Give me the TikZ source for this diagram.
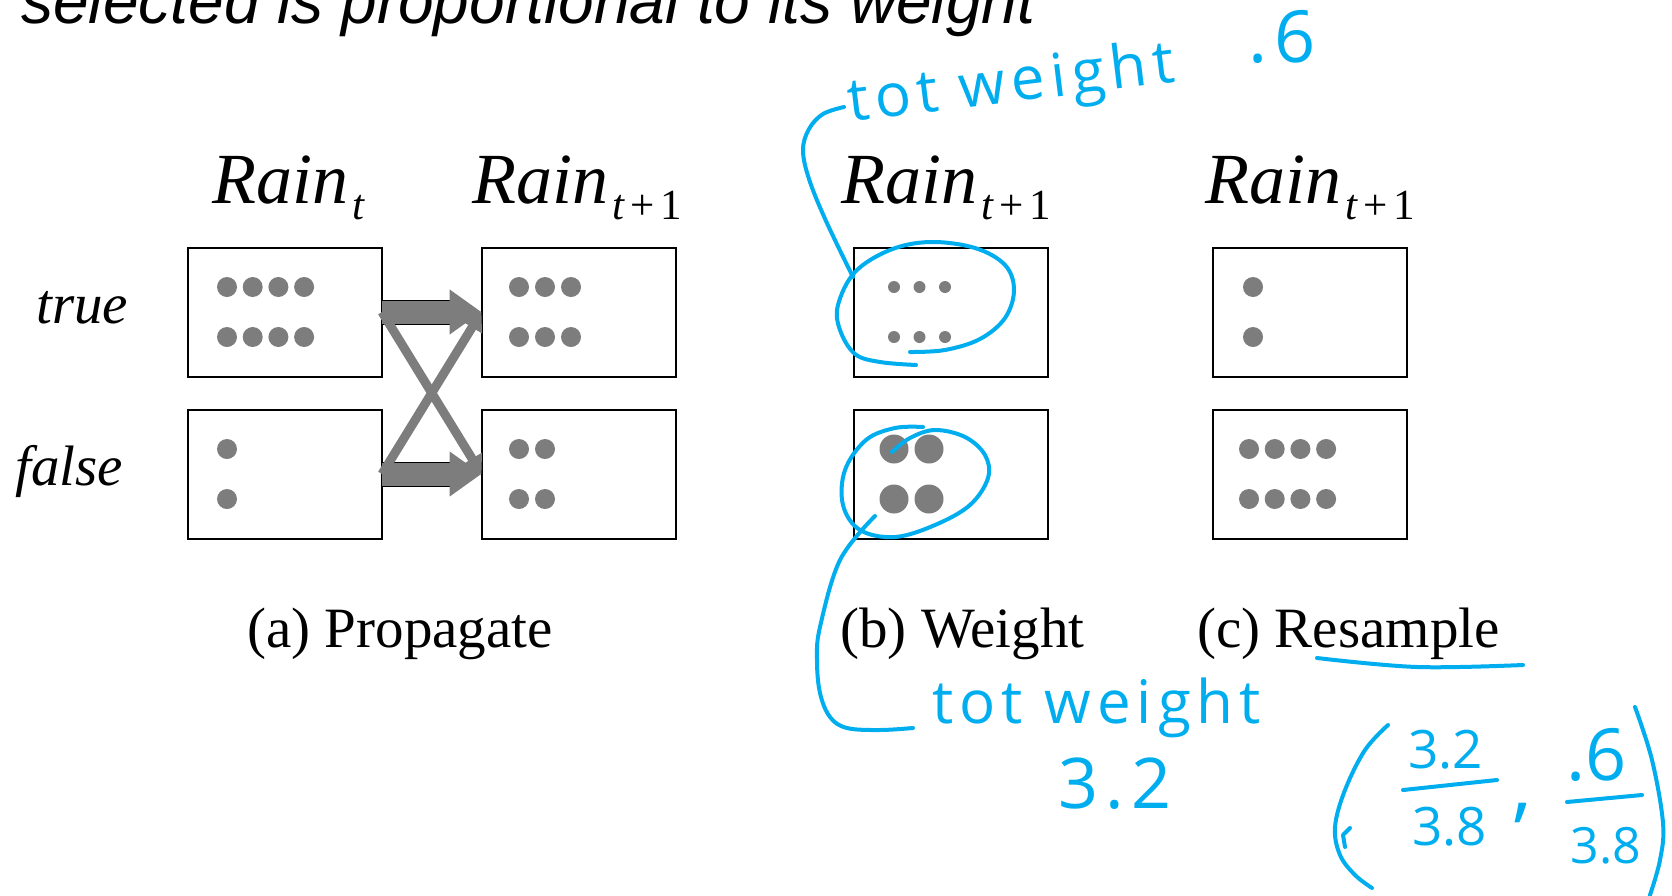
\documentclass[tikz,border=0pt]{standalone}
\usepackage{fontspec}
\setmainfont{Liberation Serif}
\newfontfamily\slidefont{Liberation Sans}
\newfontfamily\handfont[LetterSpace=10]{Open Sans}
\newfontfamily\digitfont{Open Sans}
\usepackage{xcolor}
\usetikzlibrary{arrows.meta,calc}

\definecolor{ink}{RGB}{0,174,239}
\definecolor{pgray}{RGB}{125,125,125}

% particles in a box: node, columns, radius, first x offset, spacing
\newcommand{\particles}[5]{%
  \foreach \i in {1,...,#2}
    \foreach \j in {-25,25} {
      \pgfmathsetmacro\dx{#4+(\i-1)*#5}
      \fill[pgray] ($(#1)+(\dx,\j)$) circle (#3);
    }
}
\newcommand{\rainlabel}[1]{Rain\kern2pt\raisebox{-8pt}{\fontsize{21.5}{21.5}\selectfont #1}}

\begin{document}
\begin{tikzpicture}[x=0.5pt, y=-0.5pt,
  box/.style={draw, line width=1pt, minimum width=97pt, minimum height=64.5pt,
    inner sep=0pt, outer sep=0pt},
  header/.style={anchor=base west, inner sep=0pt, font=\fontsize{36}{36}\selectfont\itshape},
  rowlab/.style={anchor=base west, inner sep=0pt, font=\fontsize{28.5}{30}\selectfont\itshape},
  captxt/.style={anchor=base west, inner sep=0pt, font=\fontsize{28.5}{30}\selectfont},
  fat/.style={pgray, line width=11.5pt, -{Triangle[length=16pt,width=21.5pt]},
    preaction={draw=black, line width=12.5pt, -, shorten >=15pt}},
  slim/.style={pgray, line width=4.5pt, -{Triangle[length=9pt,width=11pt]}},
  pen/.style={ink, line width=2pt, line cap=round, line join=round},
  hand/.style={anchor=base west, inner sep=0pt, text=ink}]
  \useasboundingbox (0,0) rectangle (1672,895);

  % slide text, cut at the top
  \node[anchor=base west, inner sep=0pt,
    font=\slidefont\itshape\fontsize{32}{36}\selectfont] (slide) at (21,23.5)
    {selected is proportional to its weight};

  % headers
  \node[header] (hpt) at (212,203) {\rainlabel{t}};
  \node[header] (hqt) at (472,203) {\rainlabel{t\kern3pt\upshape+\kern3pt1}};
  \node[header] (hwt) at (841,203) {\rainlabel{t\kern3pt\upshape+\kern3pt1}};
  \node[header] (hrt) at (1205,203) {\rainlabel{t\kern3pt\upshape+\kern3pt1}};

  % row labels
  \node[rowlab] (ltrue) at (36,323) {true};
  \node[rowlab] (lfalse) at (15,485) {false};

  % boxes
  \node[box] (pt) at (285,312) {};
  \node[box] (pf) at (285,474) {};
  \node[box] (qt) at (578.5,312) {};
  \node[box] (qf) at (578.5,474) {};
  \node[box] (wt) at (950.5,312) {};
  \node[box] (wf) at (950.5,474) {};
  \node[box] (rt) at (1309.5,312) {};
  \node[box] (rf) at (1309.5,474) {};

  % particles
  \particles{pt}{4}{5pt}{-58}{25.7}
  \particles{pf}{1}{5pt}{-58}{25.7}
  \particles{qt}{3}{5pt}{-59.5}{26}
  \particles{qf}{2}{5pt}{-59.5}{26}
  \particles{wt}{3}{3pt}{-56.5}{25.5}
  \particles{wf}{2}{7.25pt}{-56.5}{35}
  \particles{rt}{1}{5pt}{-56.5}{25.7}
  \particles{rf}{4}{5pt}{-60.5}{25.7}

  % propagate arrows
  \draw[fat] (pt.east) -- (qt.west);
  \draw[fat] (pf.east) -- (qf.west);
  \draw[slim] (pt.east) -- (qf.west);
  \draw[slim] (pf.east) -- (qt.west);

  % captions
  \node[captxt] (capa) at (247,647) {(a) Propagate};
  \node[captxt] (capb) at (840,647) {(b) Weight};
  \node[captxt] (capc) at (1197,647) {(c) Resample};

  % ink: weight of the true particles
  \draw[pen] plot[smooth, tension=0.6] coordinates {(916,365) (880,362) (855,354)
    (840,330) (838,305) (855,272) (890,250) (930,242) (975,248) (1005,265)
    (1014,290) (1005,318) (980,339) (945,350) (910,352)};
  \draw[pen] plot[smooth, tension=0.6] coordinates {(853,277) (826,221) (809,179)
    (803,150) (809,129) (823,114) (844,107)};
  \node[hand, rotate=7, font=\handfont\fontsize{30}{30}\selectfont] (tw1) at (850,122)
    {tot weight};
  \node[hand, font=\handfont\fontsize{36}{36}\selectfont] (w6) at (1248,62) {.6};

  % ink: weight of the false particles
  \draw[pen] plot[smooth, tension=0.6] coordinates {(892,452) (910,438) (935,430)
    (965,437) (985,455) (988,478) (970,505) (935,525) (895,537) (860,530)
    (843,505) (845,470) (866,440) (895,428) (923,427)};
  \draw[pen] plot[smooth, tension=0.6] coordinates {(875,516) (840,560) (820,627)
    (817,660) (820,693) (830,717) (847,728) (880,730) (913,728)};
  \node[hand, font=\handfont\fontsize{30}{30}\selectfont] (tw2) at (932,723) {tot weight};
  \node[hand, font=\handfont\fontsize{35}{35}\selectfont] (w32) at (1058,808) {3.2};

  % ink: resample probabilities
  \draw[pen] plot[smooth, tension=0.6] coordinates {(1317,658) (1417,667) (1523,665)};
  \draw[pen] plot[smooth, tension=0.6] coordinates {(1388,725) (1365,750) (1345,790)
    (1335,827) (1340,855) (1355,875) (1372,888)};
  \draw[pen] (1350,828) -- (1343,835) -- (1345,847);
  \draw[pen] plot[smooth, tension=0.6] coordinates {(1635,707) (1652,760) (1663,823)
    (1660,860) (1650,895)};
  \node[hand, font=\digitfont\fontsize{26.5}{27}\selectfont] (n1) at (1408,768) {3.2};
  \node[hand, font=\digitfont\fontsize{26.5}{27}\selectfont] (d1) at (1412,845) {3.8};
  \draw[pen] (1403,790) -- (1497,780);
  \node[hand, font=\digitfont\fontsize{40}{40}\selectfont] (cm) at (1512,812) {,};
  \node[hand, font=\digitfont\fontsize{36}{36}\selectfont] (n2) at (1566,780) {.6};
  \node[hand, font=\digitfont\fontsize{25}{25}\selectfont] (d2) at (1570,863) {3.8};
  \draw[pen] (1567,802) -- (1642,795);
\end{tikzpicture}
\end{document}
